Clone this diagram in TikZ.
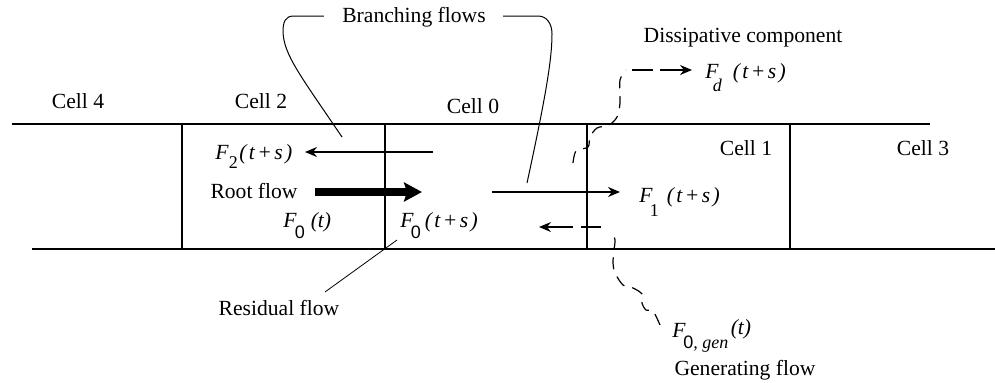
\documentclass[tikz,border=0pt]{standalone}
\usepackage{fontspec}
\setmainfont{Liberation Serif}
\newfontfamily\subsans{Liberation Sans}
\usetikzlibrary{arrows.meta}
% #1 sub, #2 kern before sub, #3 raise, #4 kern after, #5 argument
\newcommand{\flowlab}[5]{\textit{F}\kern#2\raisebox{#3}{\fontsize{9}{9}\selectfont #1}\kern#4\textit{#5}}
\newcommand{\tps}{(\kern1.2pt t\kern1.2pt +\kern1.2pt s\kern1.2pt)}
\begin{document}
\begin{tikzpicture}[x=0.5pt,y=-0.5pt,
  every node/.style={inner sep=0pt, font=\fontsize{10.8}{12}\selectfont},
  cellline/.style={line width=0.9pt},
  thinarrow/.style={line width=0.7pt, -{Stealth[length=6pt,width=5pt]}},
  lead/.style={line width=0.5pt},
  wavy/.style={line width=0.6pt, dash pattern=on 6pt off 4pt}
]
\useasboundingbox (0,0) rectangle (995,382);
% channel
\draw[cellline] (12,124) -- (930,124);
\draw[cellline] (32,249) -- (995,249);
\foreach \x in {182,385,587,790} \draw[cellline] (\x,124) -- (\x,249);
% cell labels
\node (c4) at (78,101) {Cell 4};
\node (c2) at (261,101) {Cell 2};
\node (c0) at (473,106) {Cell 0};
\node (c1) at (746,148) {Cell 1};
\node (c3) at (923,148) {Cell 3};
% text labels
\node (branch) at (414,17) {Branching flows};
\node (diss) at (743,38) {Dissipative component};
\node (root) at (254,191) {Root flow};
\node (resid) at (279,308) {Residual flow};
\node (gen) at (745,370) {Generating flow};
% flow labels
\node[anchor=base west] (f2) at (215,159) {\flowlab{2}{0pt}{-4.6pt}{0.8pt}{\tps}};
\node[anchor=base west] (f0t) at (283,227) {\flowlab{\subsans 0}{-1pt}{-5.6pt}{3pt}{(t)}};
\node[anchor=base west] (f0ts) at (400,227) {\flowlab{\subsans 0}{-1.5pt}{-5.6pt}{2pt}{\tps}};
\node[anchor=base west] (f1) at (639,202) {\flowlab{1}{-1.5pt}{-7.3pt}{4pt}{\tps}};
\node[anchor=base west] (fd) at (705,78) {\flowlab{\textit{d}}{-3pt}{-6.8pt}{5.5pt}{\tps}};
\node[anchor=base west] (fgen) at (672,337) {\textit{F}\kern-1.2pt\raisebox{-5.6pt}{\fontsize{9}{9}\selectfont{\subsans 0}\textit{, gen}}\kern1.2pt\raisebox{1.5pt}{\textit{(t)}}};
% coordinates
\coordinate (a2s) at (433,152);
\coordinate (a2e) at (305,152);
\coordinate (rs) at (315,192);
\coordinate (re) at (422,192);
\coordinate (a1s) at (492,192);
\coordinate (a1e) at (620,192);
\coordinate (gs) at (573,227);
\coordinate (ge) at (539,227);
\coordinate (ds) at (660,70);
\coordinate (dtip) at (692,70);
\coordinate (blend) at (342,137);
\coordinate (brend) at (527,183);
\coordinate (ress) at (325,292);
\coordinate (rese) at (397,240);
% arrows
\draw[thinarrow] (a2s) -- (a2e);
\draw[line width=4pt, -{Stealth[length=9pt,width=9.5pt,inset=1.5pt]}] (rs) -- (re);
\draw[thinarrow] (a1s) -- (a1e);
% branching leaders
\draw[lead] ([xshift=-9pt,yshift=0.5pt]branch.west) -- (294,16) .. controls (285,16) and (283,22) .. (283,32) .. controls (284,55) and (300,75) .. (blend);
\draw[lead] ([xshift=8.5pt,yshift=0.5pt]branch.east) -- (538,16) .. controls (547,16) and (552,24) .. (552,34) .. controls (552,60) and (545,100) .. (brend);
% residual
\draw[lead, line width=0.4pt] (ress) -- (rese);
% dissipative
\draw[wavy] plot[smooth, tension=0.5] coordinates {(573,163) (576,151) (588,147) (590,137) (597,128) (609,125) (617,117) (620,103) (620,80) (626,70)};
\draw[line width=0.6pt] (632,70) -- (653,70);
\draw[thinarrow, line width=0.6pt] (ds) -- (dtip);
% generating
\draw[wavy] plot[smooth, tension=0.5] coordinates {(660,325) (653,311) (646,310) (642,303) (642,294) (633,288) (623,285) (615,273) (613,263) (614,250) (615,240) (612,231)};
\draw[line width=0.6pt] (601,227) -- (581,227);
\draw[thinarrow, line width=0.6pt] (gs) -- (ge);
\end{tikzpicture}
\end{document}
